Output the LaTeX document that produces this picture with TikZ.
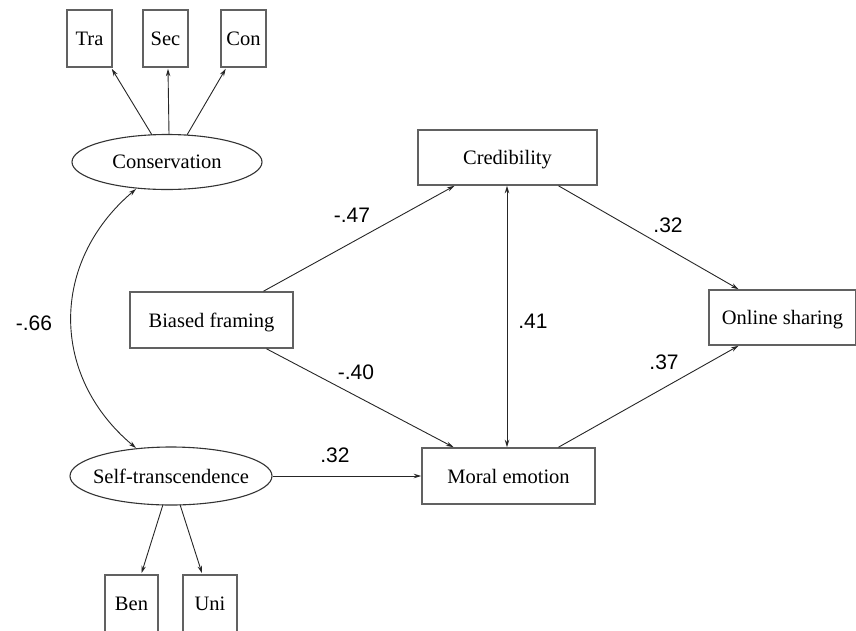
\documentclass[tikz,border=0pt]{standalone}
\usepackage{fontspec}
\setmainfont{Liberation Serif}
\newfontfamily\labfont{Liberation Sans}
\usetikzlibrary{arrows.meta,calc,shapes.geometric}
\begin{document}
\begin{tikzpicture}[x=1pt,y=-1pt,
  box/.style={draw=black!62,line width=1.6pt,rectangle,inner sep=0pt,text depth=0pt,font=\fontsize{20.5}{22}\selectfont},
  lat/.style={draw=black!80,line width=1.1pt,ellipse,inner xsep=-25pt,inner ysep=-10pt,text depth=0pt,font=\fontsize{20.5}{22}\selectfont},
  conn/.style={draw=black!85,line width=0.9pt,-{Stealth[length=7.5pt,width=4.5pt]}},
  biconn/.style={draw=black!85,line width=0.9pt,{Stealth[length=7.5pt,width=4.5pt]}-{Stealth[length=7.5pt,width=4.5pt]}},
  lab/.style={font=\labfont\fontsize{21}{23}\selectfont,inner sep=0pt}]
\useasboundingbox (0,0) rectangle (856,630);
% indicators
\node[box,minimum width=45pt,minimum height=57pt] (Tra) at (89.5,38.5) {Tra};
\node[box,minimum width=45pt,minimum height=57pt] (Sec) at (165.5,38.5) {Sec};
\node[box,minimum width=45pt,minimum height=57pt] (Con) at (243.5,38.5) {Con};
\node[box,minimum width=53pt,minimum height=57pt] (Ben) at (131.5,603.5) {Ben};
\node[box,minimum width=54pt,minimum height=57pt] (Uni) at (210,603.5) {Uni};
% latent
\node[lat,minimum width=190pt,minimum height=55pt] (cons) at (167,162) {Conservation};
\node[lat,minimum width=202pt,minimum height=58pt] (self) at (171,476) {Self-transcendence};
% observed
\node[box,minimum width=179pt,minimum height=55pt] (cred) at (507.5,157.5) {Credibility};
\node[box,minimum width=163pt,minimum height=56pt] (bias) at (211.5,320) {Biased framing};
\node[box,minimum width=147pt,minimum height=55pt] (share) at (782.5,317.5) {Online sharing};
\node[box,minimum width=173pt,minimum height=56pt] (moral) at (508.5,476) {Moral emotion};
% measurement arrows
\draw[conn] ($(cons.north)+(-15,1)$) -- ($(Tra.south east)+(-1,1)$);
\draw[conn] ($(cons.north)+(2,0)$) -- ($(Sec.south)+(2.5,1)$);
\draw[conn] ($(cons.north)+(20,1)$) -- ($(Con.south west)+(5.5,1)$);
\draw[conn] ($(self.south)+(-8,-1)$) -- ($(Ben.north)+(10,-1)$);
\draw[conn] ($(self.south)+(9,-1)$) -- ($(Uni.north)+(-8,-1)$);
% covariance
\coordinate (c1) at (136,189);
\coordinate (c2) at (136,448);
\draw[biconn] (c1) .. controls (50,262) and (50,376) .. (c2);
% structural paths
\draw[conn] ($(bias.north)+(52,0)$) -- ($(cred.south)+(-53,0)$);
\draw[conn] ($(bias.south)+(55,0)$) -- ($(moral.north)+(-55,0)$);
\draw[biconn] ($(cred.south)+(-0.5,0)$) -- ($(moral.north)+(-1.5,0)$);
\draw[conn] ($(cred.south)+(51,0)$) -- ($(share.north)+(-44,0)$);
\draw[conn] ($(moral.north)+(50,0)$) -- ($(share.south)+(-44,0)$);
\draw[conn] (self.east) -- (moral.west);
% labels
\node[lab] (l1) at (352,215) {-.47};
\node[lab] (l2) at (668,225) {.32};
\node[lab] (l3) at (34,323) {-.66};
\node[lab] (l4) at (533,321) {.41};
\node[lab] (l5) at (356,372) {-.40};
\node[lab] (l6) at (664,362) {.37};
\node[lab] (l7) at (335,455) {.32};
\end{tikzpicture}
\end{document}
